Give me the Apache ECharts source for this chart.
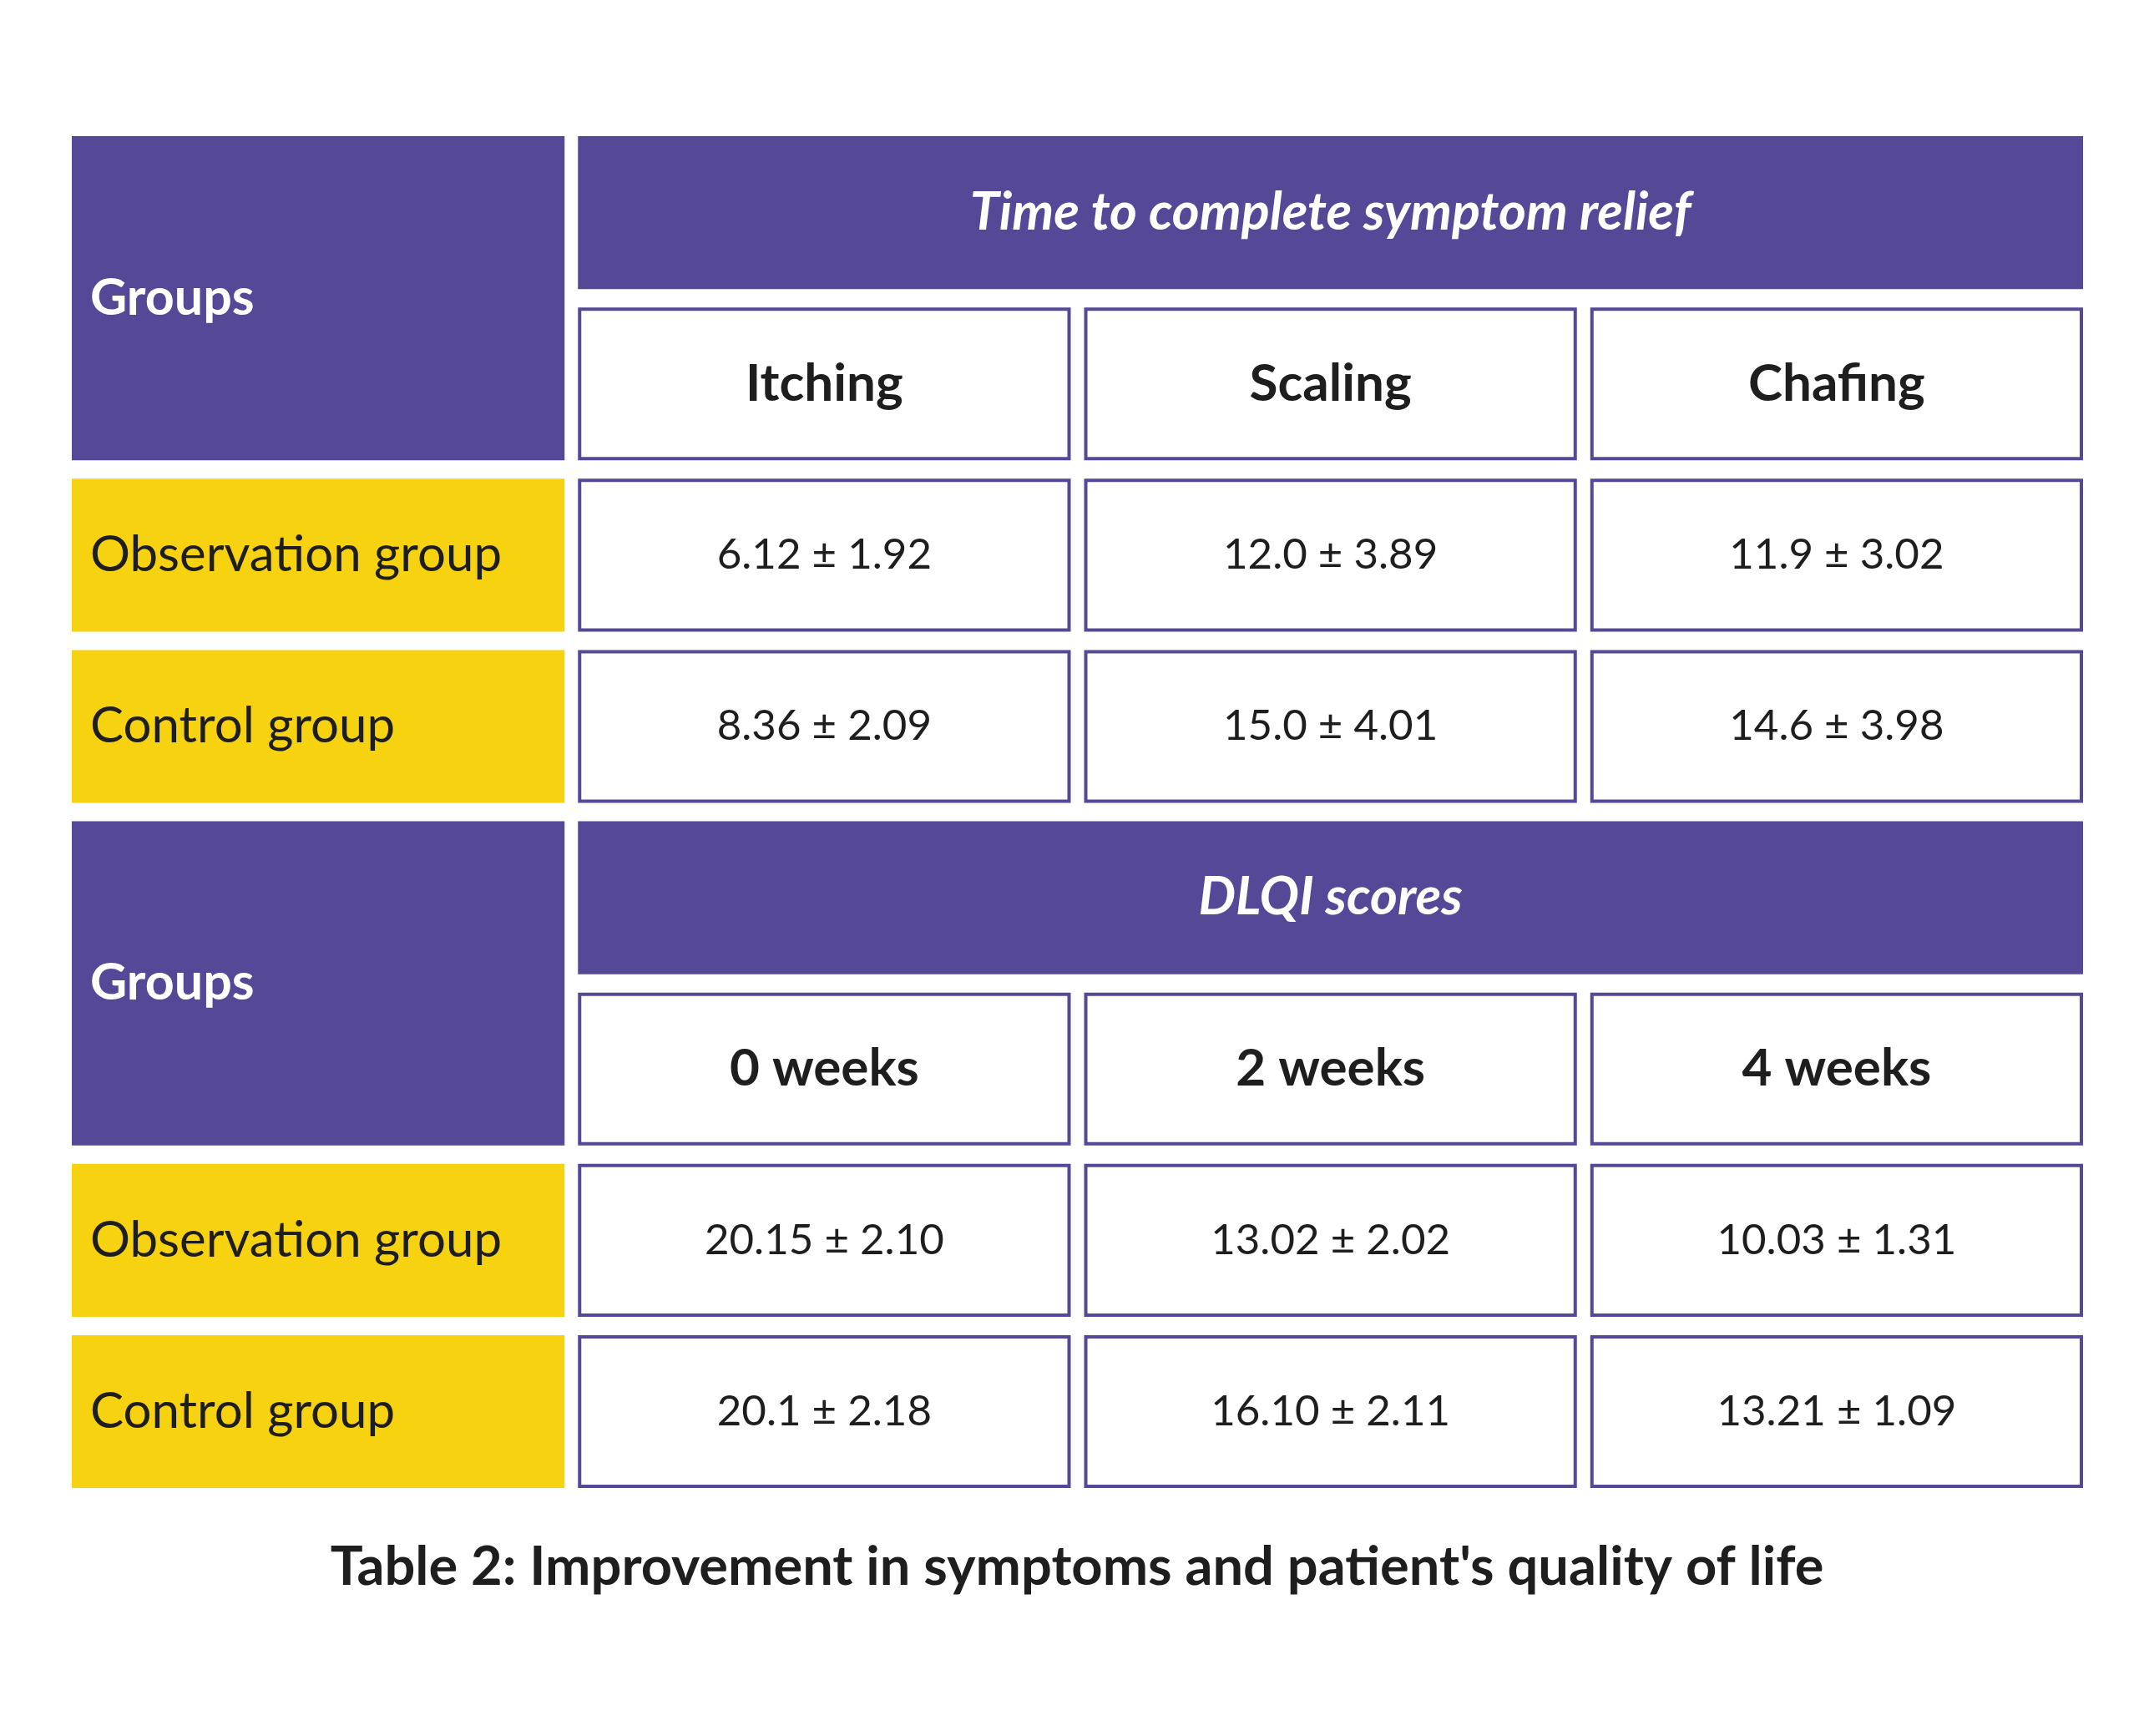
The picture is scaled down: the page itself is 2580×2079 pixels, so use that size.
<!DOCTYPE html>
<html lang="en">

<head>
  <meta charset="UTF-8">
  <meta name="viewport" content="width=device-width, initial-scale=1.0">
  <title>Table 2: Improvement in symptoms and patient's quality of life</title>
  <style>
    html,
    body {
      margin: 0;
      padding: 0;
      background: #fff;
    }

    #root {
      width: 2580px;
      height: 2079px;
    }
  </style>
</head>

<body>
  <div id="root"></div>
</body>
<script src="https://cdn.jsdelivr.net/npm/echarts@6/dist/echarts.min.js"></script>
<script>
  // table content
  const groupsLabel = 'Groups'
  const rowLabels = ['Observation group', 'Control group']

  const reliefTitle = 'Time to complete symptom relief'
  const reliefColumns = ['Itching', 'Scaling', 'Chafing']
  const reliefObservation = ['6.12 ± 1.92', '12.0 ± 3.89', '11.9 ± 3.02']
  const reliefControl = ['8.36 ± 2.09', '15.0 ± 4.01', '14.6 ± 3.98']

  const dlqiTitle = 'DLQI scores'
  const dlqiColumns = ['0 weeks', '2 weeks', '4 weeks']
  const dlqiObservation = ['20.15 ± 2.10', '13.02 ± 2.02', '10.03 ± 1.31']
  const dlqiControl = ['20.1 ± 2.18', '16.10 ± 2.11', '13.21 ± 1.09']

  const caption = "Table 2: Improvement in symptoms and patient's quality of life"

  const PURPLE = '#554896'
  const YELLOW = '#f7d210'
  const INK = '#1e1e1e'
  const FONT = 'Lato'

  // build the cell list: [col, row, colSpan, rowSpan, text, kind]
  let cells = []
  function addBlock(startRow, title, columns, obs, ctrl) {
    cells.push([0, startRow, 1, 2, groupsLabel, 'corner'])
    cells.push([1, startRow, 3, 1, title, 'title'])
    columns.forEach((c, i) => cells.push([i + 1, startRow + 1, 1, 1, c, 'head']))
    cells.push([0, startRow + 2, 1, 1, rowLabels[0], 'label'])
    obs.forEach((v, i) => cells.push([i + 1, startRow + 2, 1, 1, v, 'value']))
    cells.push([0, startRow + 3, 1, 1, rowLabels[1], 'label'])
    ctrl.forEach((v, i) => cells.push([i + 1, startRow + 3, 1, 1, v, 'value']))
  }
  addBlock(0, reliefTitle, reliefColumns, reliefObservation, reliefControl)
  addBlock(4, dlqiTitle, dlqiColumns, dlqiObservation, dlqiControl)

  const GAP_X = 16
  const GAP_Y = 22

  const fonts = {
    corner: 'bold 61px ' + FONT,
    title: 'italic bold 63px ' + FONT,
    head: 'bold 62px ' + FONT,
    label: 'normal 60px ' + FONT,
    value: 'normal 51px ' + FONT
  }

  function renderItem(params, api) {
    const cell = cells[params.dataIndex]
    const col = api.value(0), row = api.value(1)
    const cs = api.value(2), rs = api.value(3)
    const kind = cell[5]
    const a = api.coord([col, row])
    const b = api.coord([col + cs - 1, row + rs - 1])
    const band = api.size([1, 1])
    const x0 = Math.min(a[0], b[0]) - band[0] / 2 + GAP_X / 2
    const x1 = Math.max(a[0], b[0]) + band[0] / 2 - GAP_X / 2
    const y0 = Math.min(a[1], b[1]) - band[1] / 2 + GAP_Y / 2
    const y1 = Math.max(a[1], b[1]) + band[1] / 2 - GAP_Y / 2

    let rectStyle, fill
    const left = kind === 'corner' || kind === 'label'
    const tx = left ? x0 + 22 : (x0 + x1) / 2
    const ty = (y0 + y1) / 2
    if (kind === 'corner' || kind === 'title') {
      rectStyle = { fill: PURPLE }
      fill = '#fff'
    } else if (kind === 'label') {
      rectStyle = { fill: YELLOW }
      fill = INK
    } else {
      rectStyle = { fill: '#fff', stroke: PURPLE, lineWidth: 4 }
      fill = INK
    }
    const inset = rectStyle.stroke ? 2 : 0
    return {
      type: 'group',
      children: [
        {
          type: 'rect',
          shape: { x: x0 + inset, y: y0 + inset, width: x1 - x0 - inset * 2, height: y1 - y0 - inset * 2 },
          style: rectStyle
        },
        {
          type: 'text',
          style: {
            text: cell[4],
            x: tx,
            y: ty,
            fill: fill,
            font: fonts[kind],
            align: left ? 'left' : 'center',
            verticalAlign: 'middle'
          }
        }
      ]
    }
  }

  let myChart = echarts.init(document.getElementById('root'))

  let option = {
    animation: false,
    title: {
      text: caption,
      left: 'center',
      top: 1840,
      textStyle: {
        fontFamily: FONT,
        fontSize: 65,
        fontWeight: 'bold',
        color: INK
      }
    },
    grid: {
      left: 78,
      top: 152,
      width: 2425,
      height: 1641
    },
    xAxis: {
      type: 'category',
      data: [0, 1, 2, 3],
      show: false
    },
    yAxis: {
      type: 'category',
      data: [0, 1, 2, 3, 4, 5, 6, 7],
      inverse: true,
      show: false
    },
    series: [
      {
        type: 'custom',
        renderItem: renderItem,
        encode: { x: 0, y: 1 },
        data: cells.map(c => [c[0], c[1], c[2], c[3]])
      }
    ]
  }

  myChart.setOption(option)
</script>

</html>
